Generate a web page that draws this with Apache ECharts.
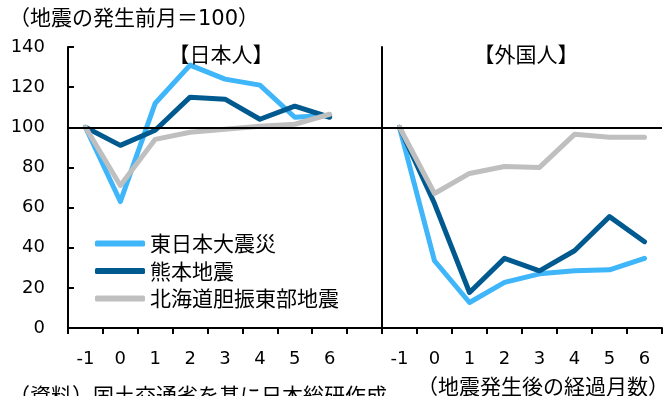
<!DOCTYPE html>
<html><head><meta charset="utf-8">
<script src="https://cdn.jsdelivr.net/npm/echarts@6/dist/echarts.min.js"></script>
<style>html,body{margin:0;padding:0;background:#fff}#c{width:664px;height:396px}</style>
</head><body><div id="c"></div>
<script>
const categories = ['-1','0','1','2','3','4','5','6'];
const yTicks = {min: 0, max: 140, interval: 20};
const seriesNames = ['東日本大震災','熊本地震','北海道胆振東部地震'];
// 日本人
const jpHigashi  = [100, 63, 112, 131, 124, 121, 105, 106];
const jpKumamoto = [100, 91, 98.5, 115, 114, 104, 110.5, 105];
const jpHokkaido = [100, 71, 94, 97.5, 99, 100.5, 101.5, 106.5];
// 外国人
const frHigashi  = [100, 33.5, 12.7, 22.7, 27, 28.5, 29, 34.7];
const frKumamoto = [100, 62, 17.7, 34.7, 28.5, 38.5, 55.5, 43];
const frHokkaido = [100, 67, 77, 80.5, 80, 96.5, 95, 95];
const baseLine = 100;

const colors = ['#3fb5fa', '#005a8f', '#bfbfbf'];
const numFont = 'DejaVu Sans';
const jpFont = '"Noto Sans CJK JP", sans-serif';

function lineSeries(name, data, idx, color) {
  return {
    name, type: 'line', data, xAxisIndex: idx, yAxisIndex: idx,
    symbol: 'none', smooth: false,
    lineStyle: {width: 5, color, cap: 'round', join: 'round'},
    itemStyle: {color}, z: 2
  };
}
function baseSeries(idx) {
  return {
    type: 'line', data: [], xAxisIndex: idx, yAxisIndex: idx, z: 5,
    markLine: {silent: true, symbol: 'none', label: {show: false},
      lineStyle: {color: '#000', width: 2, type: 'solid'},
      data: [{yAxis: baseLine}], z: 5}
  };
}
const xAxisCommon = {
  type: 'category', boundaryGap: true,
  axisLine: {lineStyle: {color: '#000', width: 2}},
  axisTick: {show: true, inside: false, length: 6, interval: 0, lineStyle: {color: '#000', width: 2}},
  axisLabel: {interval: 0, color: '#000', fontSize: 18, fontFamily: numFont, margin: 22},
  splitLine: {show: false}
};
const txt = {fontSize: 21, fontWeight: 'normal', fontFamily: jpFont, color: '#000'};
const chart = echarts.init(document.getElementById('c'));
chart.setOption({
  animation: false,
  backgroundColor: '#fff',
  grid: [
    {left: 68, top: 47, width: 314, height: 281},
    {left: 382, top: 47, width: 280, height: 281}
  ],
  xAxis: [
    Object.assign({}, xAxisCommon, {gridIndex: 0, data: categories.concat([''])}),
    Object.assign({}, xAxisCommon, {gridIndex: 1, data: categories})
  ],
  yAxis: [
    {type: 'value', gridIndex: 0, min: yTicks.min, max: yTicks.max, interval: yTicks.interval,
     axisLine: {show: true, lineStyle: {color: '#000', width: 2}},
     axisTick: {show: true, inside: true, length: 6, lineStyle: {color: '#000', width: 2}},
     axisLabel: {color: '#000', fontSize: 18, fontFamily: numFont, margin: 23},
     splitLine: {show: false}},
    {type: 'value', gridIndex: 1, min: yTicks.min, max: yTicks.max, interval: yTicks.interval,
     axisLine: {show: true, lineStyle: {color: '#000', width: 2}},
     axisTick: {show: false}, axisLabel: {show: false}, splitLine: {show: false}}
  ],
  legend: {
    orient: 'vertical', left: 90, top: 228, itemWidth: 50, itemHeight: 6, itemGap: 6.5,
    icon: 'roundRect', data: seriesNames,
    textStyle: {fontSize: 21, fontFamily: jpFont, color: '#000'}
  },
  title: [
    {text: '（地震の発生前月＝100）', left: 4, top: 4, textStyle: {fontSize: 21, fontWeight: 'normal', fontFamily: '"DejaVu Sans", "Noto Sans CJK JP", sans-serif', color: '#000'}},
    {text: '【日本人】', left: 216, top: 49, textAlign: 'center', textVerticalAlign: 'middle', textStyle: txt},
    {text: '【外国人】', left: 521, top: 49, textAlign: 'center', textVerticalAlign: 'middle', textStyle: txt},
    {text: '（地震発生後の経過月数）', left: 538, top: 381, textAlign: 'center', textVerticalAlign: 'middle', textStyle: txt},
    {text: '（資料）国土交通省を基に日本総研作成', left: 4, top: 380, textStyle: txt}
  ],
  series: [
    lineSeries(seriesNames[0], jpHigashi, 0, colors[0]),
    lineSeries(seriesNames[1], jpKumamoto, 0, colors[1]),
    lineSeries(seriesNames[2], jpHokkaido, 0, colors[2]),
    lineSeries(seriesNames[0], frHigashi, 1, colors[0]),
    lineSeries(seriesNames[1], frKumamoto, 1, colors[1]),
    lineSeries(seriesNames[2], frHokkaido, 1, colors[2]),
    baseSeries(0), baseSeries(1)
  ]
});
</script></body></html>
